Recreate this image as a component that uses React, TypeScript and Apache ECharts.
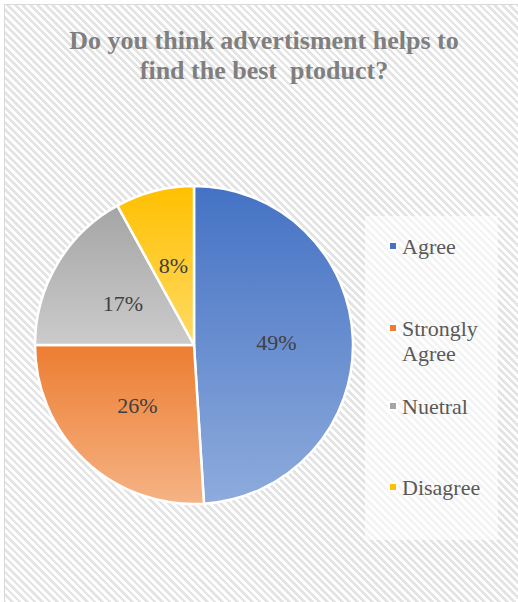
import React, { useEffect, useRef } from "react";
import * as echarts from "echarts";

const categories = ["Agree", "Strongly Agree", "Nuetral", "Disagree"];
const shares = [49, 26, 17, 8];
const topColors = ["#4472C4", "#ED7D31", "#A5A5A5", "#FFC000"];
const bottomColors = ["#8EABDC", "#F5B385", "#CBCBCB", "#FFDA66"];
const legendTops = [230, 312, 390, 471];

const TITLE = "Do you think advertisment helps to\nfind the best  ptoduct?";
const SERIF = "Liberation Serif";

export default function App() {
  const ref = useRef<HTMLDivElement>(null);

  useEffect(() => {
    if (!ref.current) return;
    const chart = echarts.init(ref.current, undefined, { renderer: "svg" });

    const data = categories.map((name, i) => ({
      name,
      value: shares[i],
      itemStyle: {
        color: new echarts.graphic.LinearGradient(0, 0, 0, 1, [
          { offset: 0, color: topColors[i] },
          { offset: 1, color: bottomColors[i] },
        ]),
      },
    }));

    chart.setOption({
      animation: false,
      backgroundColor: "transparent",
      textStyle: { fontFamily: SERIF },
      title: {
        text: TITLE,
        left: 259,
        textAlign: "center",
        top: 20,
        textStyle: {
          fontFamily: SERIF,
          fontWeight: "bold",
          fontSize: 26,
          lineHeight: 30,
          color: "#7F7F7F",
        },
      },
      graphic: [
        {
          type: "rect",
          shape: { x: 365, y: 216, width: 133, height: 324 },
          style: { fill: "rgba(255,255,255,0.6)" },
          z: -1,
        },
        {
          type: "text",
          x: 402,
          y: 342,
          style: {
            text: "Agree",
            fontFamily: SERIF,
            fontSize: 22,
            fill: "#595959",
          },
        },
      ],
      legend: categories.map((name, i) => ({
        data: [name],
        left: 383,
        top: legendTops[i],
        orient: "vertical",
        itemWidth: 8,
        itemHeight: 8,
        icon: "rect",
        itemGap: 0,
        selectedMode: false,
        formatter: (n: string) => (n === "Strongly Agree" ? "Strongly" : n),
        textStyle: {
          fontFamily: SERIF,
          fontSize: 22,
          color: "#595959",
        },
        itemStyle: { color: topColors[i] },
      })),
      series: [
        {
          type: "pie",
          center: [194, 345],
          radius: 159,
          startAngle: 90,
          clockwise: true,
          data,
          itemStyle: { borderColor: "#FFFFFF", borderWidth: 2.5 },
          label: {
            show: true,
            position: "inside",
            formatter: "{c}%",
            fontFamily: SERIF,
            fontSize: 22,
            color: "#404040",
          },
          labelLine: { show: false },
          emphasis: { disabled: true },
        },
      ],
    });

    return () => chart.dispose();
  }, []);

  return (
    <div
      style={{
        position: "fixed",
        left: 0,
        top: 0,
        width: 518,
        height: 602,
        background: "#FFFFFF",
        overflow: "hidden",
      }}
    >
      <div
        style={{
          position: "absolute",
          left: 4,
          top: 4,
          width: 530,
          height: 610,
          border: "1px solid #D9D9D9",
          background:
            "repeating-linear-gradient(45deg, #FFFFFF 0px, #FFFFFF 2.6px, #E4E4E4 2.6px, #E4E4E4 5.3px)",
        }}
      />
      <div
        ref={ref}
        style={{ position: "absolute", left: 0, top: 0, width: 518, height: 602 }}
      />
    </div>
  );
}
